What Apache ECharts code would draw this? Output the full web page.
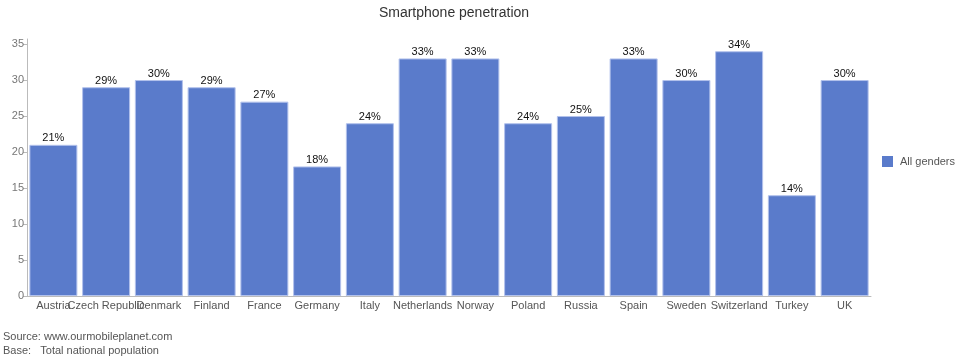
<!DOCTYPE html>
<html><head><meta charset="utf-8">
<script src="https://cdn.jsdelivr.net/npm/echarts@6/dist/echarts.min.js"></script>
<style>html,body{margin:0;padding:0;background:#fff}#c{width:958px;height:358px}</style>
</head><body><div id="c"></div>
<script>
const categories = ["Austria","Czech Republic","Denmark","Finland","France","Germany","Italy","Netherlands","Norway","Poland","Russia","Spain","Sweden","Switzerland","Turkey","UK"];
const values = [21,29,30,29,27,18,24,33,33,24,25,33,30,34,14,30];
const yTicks = [0,5,10,15,20,25,30,35];
const seriesName = "All genders";
const titleText = "Smartphone penetration";
const sourceLine = "Source: www.ourmobileplanet.com";
const baseLine = "Base:   Total national population";

const FONT = "Liberation Sans, Arial, sans-serif";
const chart = echarts.init(document.getElementById('c'), null, {renderer:'canvas'});
chart.setOption({
  animation:false,
  textStyle:{fontFamily:FONT},
  title:{text:titleText, left:449, top:1, textAlign:'center',
    textStyle:{fontFamily:FONT,fontSize:14,fontWeight:'normal',color:'#333'}},
  legend:{orient:'vertical', left:877, top:151, itemWidth:11, itemHeight:11, itemGap:6,
    icon:'rect', itemStyle:{borderWidth:0},
    textStyle:{fontFamily:FONT,fontSize:11,color:'#555', padding:[0,0,0,2]}, data:[seriesName]},
  grid:{left:27, right:87, top:39, bottom:62},
  xAxis:{type:'category', data:categories,
    axisLine:{lineStyle:{color:'#bbb'}},
    axisTick:{alignWithLabel:true, length:4, lineStyle:{color:'#bbb'}},
    axisLabel:{interval:0, hideOverlap:false, color:'#555', fontSize:11, fontFamily:FONT, margin:4}},
  yAxis:{type:'value', min:0, max:35.7, interval:5,
    axisLine:{show:true, lineStyle:{color:'#bbb'}},
    axisTick:{show:true, length:4, lineStyle:{color:'#bbb'}, customValues:yTicks},
    axisLabel:{color:'#777', fontSize:11, fontFamily:FONT, margin:3, customValues:yTicks},
    splitLine:{show:false}},
  series:[{type:'bar', name:seriesName, data:values, barCategoryGap:'9%',
    itemStyle:{color:'#5a7bcb', borderColor:'#b3c2ec', borderWidth:1},
    label:{show:true, position:'top', distance:1, formatter:'{c}%', color:'#111', fontSize:11, fontFamily:FONT}}],
  graphic:[
    {type:'text', left:3, top:331, style:{text:sourceLine, fill:'#555', font:'11px '+FONT}},
    {type:'text', left:3, top:345, style:{text:baseLine, fill:'#555', font:'11px '+FONT}}
  ]
});
</script></body></html>
